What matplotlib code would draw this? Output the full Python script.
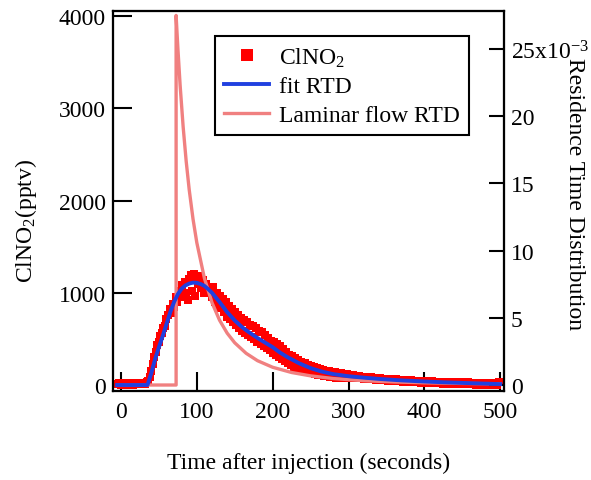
import matplotlib
matplotlib.use("Agg")
import matplotlib.pyplot as plt
import numpy as np

plt.rcParams['font.family'] = ['Liberation Serif', 'DejaVu Serif']
plt.rcParams['mathtext.fontset'] = 'custom'
plt.rcParams['mathtext.rm'] = 'Liberation Serif'
plt.rcParams['mathtext.it'] = 'Liberation Serif:italic'

# ---- measured ClNO2 (pptv), sampled every 2 s from -4 s to 500 s ----
data_t = list(range(-4, 501, 2))
data_v = (
    # -4 .. 34 s
    [12, 20, 5, 25, 10, 18, 2, 22, 8, 15, 0, 20, 12, 25, 6, 18, 10, 22, 15, 28]
    # 36 .. 70 s
    + [40, 90, 150, 230, 300, 360, 430, 470, 530, 560, 620, 640, 720, 760,
       820, 780, 880, 850]
    # 72 .. 118 s
    + [950, 900, 1020, 960, 1080, 950, 1120, 1000, 920, 1150, 1190, 1020,
       1200, 960, 1150, 1100, 1180, 1050, 1140, 1000, 1100, 1060, 1020, 1050]
    # 120 .. 198 s
    + [950, 1060, 900, 1000, 860, 960, 830, 930, 790, 900, 740, 860, 720, 820,
       680, 790, 650, 760, 620, 730, 590, 700, 560, 680, 540, 650, 520, 640,
       500, 620, 470, 590, 450, 570, 420, 540, 400, 510, 380, 480]
    # 200 .. 298 s
    + [350, 470, 330, 450, 300, 420, 280, 390, 260, 360, 240, 330, 220, 310,
       200, 290, 185, 270, 170, 250, 160, 235, 150, 220, 140, 205, 130, 195,
       120, 185, 110, 175, 105, 165, 100, 155, 95, 150, 90, 145, 85, 140,
       80, 132, 78, 125, 75, 120, 72, 115]
    # 300 .. 500 s
    + [85, 108, 80, 104, 78, 100, 75, 96, 72, 92, 70, 88, 66, 86, 64, 82, 60,
       80, 58, 76, 55, 74, 52, 70, 50, 68, 48, 66, 46, 62, 44, 60, 42, 58, 40,
       56, 38, 54, 36, 52, 34, 50, 32, 48, 30, 46, 28, 45, 26, 44, 25, 42, 24,
       40, 22, 39, 20, 38, 19, 36, 18, 35, 16, 34, 15, 33, 14, 32, 13, 31, 12,
       30, 11, 30, 10, 29, 9, 28, 8, 28, 7, 27, 6, 27, 5, 26, 5, 26, 4, 25, 4,
       25, 3, 25, 3, 24, 2, 24, 2, 30, 35]
)

# ---- fitted RTD (pptv) ----
fit_t = [-5, 35, 40, 45, 50, 55, 60, 65, 70, 75, 80, 85, 90, 95, 100, 105, 110,
         115, 120, 130, 140, 150, 160, 170, 180, 190, 200, 210, 220, 235, 250,
         265, 280, 300, 320, 340, 370, 400, 430, 460, 500]
fit_v = [0, 0, 130, 280, 410, 530, 660, 790, 900, 985, 1045, 1080, 1100, 1110,
         1108, 1095, 1075, 1040, 1000, 900, 790, 700, 625, 565, 510, 460, 410,
         350, 300, 235, 183, 145, 118, 95, 80, 66, 50, 38, 28, 20, 10]

# ---- laminar flow RTD (x1e-3 1/s) ----
lam_t = [-4, 72.7, 72.7, 75, 78, 82, 86, 90, 95, 100, 110, 120, 130, 140, 150,
         165, 180, 200, 225, 250, 280, 320, 360, 400, 450, 500]
lam_v = [0, 0, 27.5, 25.09, 22.3, 19.2, 16.64, 14.52, 12.35, 10.59, 7.95, 6.13,
         4.82, 3.86, 3.14, 2.36, 1.81, 1.32, 0.93, 0.68, 0.48, 0.32, 0.227,
         0.165, 0.116, 0.085]

x_ticks = [0, 100, 200, 300, 400, 500]
left_ticks = [0, 1000, 2000, 3000, 4000]
right_ticks = [0, 5, 10, 15, 20, 25]
right_labels = ['0', '5', '10', '15', '20', '25x10$^{-3}$']

RED = '#ff0000'
BLUE = '#2040e0'
PINK = '#f08080'

fig = plt.figure(figsize=(5.91, 4.81), dpi=100)
ax = fig.add_axes([113/591, 1-392/481, 391/591, 380/481])
ax2 = ax.twinx()
ax3 = ax.twinx()

ax.plot(data_t, data_v, linestyle='none', marker='s', markersize=6,
        color=RED, markeredgewidth=0, label='ClNO$_2$')
ax2.plot(lam_t, lam_v, color=PINK, lw=2.4, label='Laminar flow RTD')
ax3.plot(fit_t, fit_v, color=BLUE, lw=2.8, label='fit RTD')

ax.set_xlim(-10.5, 505)
ax.set_ylim(-65, 4056)
ax2.set_ylim(-0.446, 27.83)
ax3.set_ylim(-65, 4056)

for a in (ax, ax2, ax3):
    for s in a.spines.values():
        s.set_linewidth(1.5)

FS = 17
ax.set_xticks(x_ticks)
ax.set_yticks(left_ticks)
ax.tick_params(axis='both', direction='in', length=13.5, width=1.5,
               labelsize=FS, pad=5)
ax.tick_params(axis='x', pad=7)
ax2.set_yticks(right_ticks)
ax2.set_yticklabels(right_labels)
ax2.tick_params(axis='y', direction='in', length=11, width=1.5,
                labelsize=FS, pad=5)
ax3.set_yticks([])
ax3.tick_params(right=False, labelright=False)

ax.set_xlabel('Time after injection (seconds)', fontsize=FS)
ax.xaxis.set_label_coords(0.5, -0.16)
ax.set_ylabel('ClNO$_2$(pptv)', fontsize=FS)
ax.yaxis.set_label_coords(-0.19, 0.45)
ax2.set_ylabel('Residence Time Distribution', fontsize=FS, rotation=-90,
               va='center', ha='center')
ax2.yaxis.set_label_coords(1.18, 0.52)

h1, l1 = ax.get_legend_handles_labels()
h2, l2 = ax2.get_legend_handles_labels()
h3, l3 = ax3.get_legend_handles_labels()
leg = ax3.legend(h1 + h3 + h2, l1 + l3 + l2, loc='upper left',
                 bbox_to_anchor=(102/391, 1-25/380), fontsize=FS,
                 frameon=True, fancybox=False, framealpha=1,
                 edgecolor='black', borderpad=0.4, handlelength=1.9,
                 labelspacing=0.3, handletextpad=0.4, borderaxespad=0)
leg.get_frame().set_linewidth(1.5)
leg.legend_handles[0].set_markersize(9)

fig.savefig('out.png', dpi=100)
